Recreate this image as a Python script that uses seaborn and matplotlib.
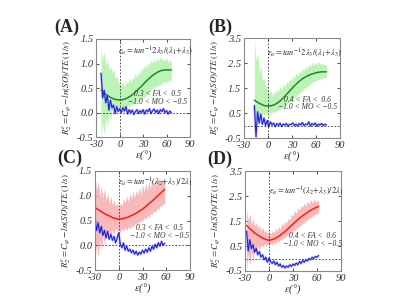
import numpy as np
import matplotlib
matplotlib.use('Agg')
import matplotlib.pyplot as plt
import seaborn as sns

sns.set_style("ticks")
plt.rcParams['font.family'] = 'serif'
plt.rcParams['font.serif'] = ['Liberation Serif', 'DejaVu Serif']
plt.rcParams['mathtext.fontset'] = 'stix'
plt.rcParams['axes.unicode_minus'] = False

# ---- panel A : green fit, 0.3<FA<0.5 ----
eps_a = np.arange(-24, 67, 2)
fit_a = [0.46, 0.43, 0.40, 0.375, 0.35, 0.33, 0.31, 0.295, 0.28, 0.27, 0.265, 0.26, 0.26, 0.26, 0.265,
         0.275, 0.285, 0.30, 0.32, 0.34, 0.36, 0.39, 0.42, 0.45, 0.48, 0.51, 0.54, 0.575, 0.61, 0.64,
         0.67, 0.70, 0.73, 0.755, 0.78, 0.80, 0.82, 0.835, 0.85, 0.86, 0.865, 0.87, 0.87, 0.87, 0.87, 0.865]
hi_a = [1.35, 1.05, 1.25, 0.95, 1.10, 0.85, 0.95, 0.80, 0.90, 0.70, 0.75, 0.62, 0.58, 0.55, 0.62,
        0.52, 0.65, 0.58, 0.70, 0.62, 0.72, 0.68, 0.80, 0.72, 0.85, 0.78, 0.92, 0.86, 0.98, 0.90,
        1.02, 0.95, 1.08, 1.00, 1.10, 1.02, 1.12, 1.05, 1.15, 1.06, 1.10, 1.04, 1.12, 1.02, 1.08, 1.00]
lo_a = [-0.5, -0.2, -0.45, -0.1, -0.3, 0.0, -0.15, 0.05, -0.05, 0.1, 0.0, 0.08, 0.02, 0.10, 0.05,
        0.12, 0.08, 0.15, 0.10, 0.18, 0.14, 0.20, 0.18, 0.24, 0.22, 0.28, 0.26, 0.32, 0.30, 0.36,
        0.38, 0.42, 0.45, 0.50, 0.48, 0.55, 0.52, 0.58, 0.56, 0.62, 0.60, 0.64, 0.62, 0.66, 0.64, 0.70]
blue_a = [0.80, 0.30, 0.45, 0.20, 0.35, 0.05, 0.25, 0.10, 0.15, -0.02, 0.12, 0.02, 0.08, 0.0, 0.10,
          0.03, 0.12, -0.03, 0.06, 0.0, 0.05, -0.04, 0.02, 0.06, -0.02, 0.04, 0.0, 0.06, -0.03, 0.05,
          0.02, 0.08, -0.02, 0.04, 0.07, 0.0, 0.05, -0.02, 0.06, 0.02, 0.08, 0.0, 0.04, -0.03, 0.03, 0.0]

# ---- panel B : green fit, 0.4<FA<0.6 ----
eps_b = np.arange(-17, 74, 2)
fit_b = [1.02, 0.97, 0.93, 0.89, 0.86, 0.83, 0.80, 0.79, 0.78, 0.78, 0.79, 0.80, 0.82, 0.85, 0.89,
         0.93, 0.98, 1.04, 1.10, 1.17, 1.24, 1.31, 1.38, 1.45, 1.52, 1.59, 1.65, 1.71, 1.77, 1.82,
         1.87, 1.91, 1.95, 1.98, 2.01, 2.04, 2.06, 2.08, 2.10, 2.12, 2.13, 2.14, 2.15, 2.15, 2.15, 2.15]
hi_b = [3.5, 2.6, 2.9, 2.1, 2.4, 1.8, 1.9, 1.5, 1.6, 1.25, 1.45, 1.20, 1.35, 1.25, 1.45,
        1.35, 1.55, 1.45, 1.65, 1.55, 1.75, 1.68, 1.85, 1.80, 1.98, 1.90, 2.08, 2.00, 2.18, 2.10,
        2.28, 2.20, 2.38, 2.28, 2.45, 2.35, 2.55, 2.40, 2.52, 2.42, 2.58, 2.45, 2.50, 2.42, 2.46, 2.40]
lo_b = [-0.1, 0.3, 0.1, 0.4, 0.3, 0.5, 0.4, 0.55, 0.45, 0.55, 0.42, 0.58, 0.48, 0.60, 0.55,
        0.66, 0.62, 0.72, 0.70, 0.82, 0.80, 0.92, 0.90, 1.02, 1.02, 1.12, 1.14, 1.24, 1.26, 1.36,
        1.38, 1.48, 1.50, 1.58, 1.60, 1.68, 1.70, 1.76, 1.78, 1.82, 1.84, 1.86, 1.88, 1.90, 1.92, 1.94]
blue_b = [0.80, -0.45, 0.55, 0.10, 0.45, 0.05, 0.30, 0.0, 0.20, -0.05, 0.15, 0.02, 0.10, -0.05, 0.08,
          0.0, 0.10, -0.04, 0.06, 0.02, 0.08, -0.03, 0.05, 0.04, 0.10, 0.0, 0.06, -0.02, 0.08, 0.02,
          0.12, 0.0, 0.06, 0.03, 0.15, -0.02, 0.08, 0.02, 0.10, -0.03, 0.06, 0.02, 0.08, 0.0, 0.05, 0.02]

# ---- panel C : red fit, 0.3<FA<0.5 ----
eps_c = np.arange(-30, 59, 2)
fit_c = [0.76, 0.74, 0.72, 0.70, 0.68, 0.66, 0.64, 0.62, 0.61, 0.59, 0.58, 0.56, 0.55, 0.54, 0.535,
         0.53, 0.53, 0.535, 0.54, 0.55, 0.56, 0.57, 0.585, 0.60, 0.615, 0.63, 0.65, 0.67, 0.69, 0.71,
         0.73, 0.755, 0.78, 0.81, 0.84, 0.865, 0.89, 0.92, 0.95, 0.98, 1.01, 1.04, 1.07, 1.10, 1.13]
hi_c = [1.40, 1.10, 1.30, 1.00, 1.20, 0.95, 1.15, 0.90, 1.05, 0.85, 1.00, 0.80, 0.92, 0.78, 0.88,
        0.75, 0.85, 0.80, 0.95, 0.85, 1.00, 0.88, 1.05, 0.92, 1.10, 0.95, 1.12, 1.00, 1.18, 1.02,
        1.22, 1.08, 1.25, 1.10, 1.28, 1.15, 1.32, 1.18, 1.35, 1.22, 1.38, 1.25, 1.35, 1.28, 1.32]
lo_c = [-0.35, 0.05, -0.25, 0.10, -0.10, 0.20, 0.0, 0.25, 0.10, 0.30, 0.15, 0.32, 0.22, 0.35, 0.28,
        0.32, 0.25, 0.34, 0.28, 0.36, 0.30, 0.38, 0.32, 0.40, 0.36, 0.44, 0.40, 0.48, 0.44, 0.52,
        0.48, 0.56, 0.52, 0.60, 0.56, 0.64, 0.62, 0.70, 0.66, 0.75, 0.72, 0.80, 0.78, 0.85, 0.82]
blue_c = [0.55, 0.30, 0.45, 0.25, 0.38, 0.20, 0.30, 0.15, 0.28, 0.12, 0.22, 0.10, 0.18, 0.05, 0.15,
          0.25, 0.02, -0.05, 0.05, -0.10, -0.02, -0.12, -0.08, -0.15, -0.10, -0.18, -0.12, -0.20, -0.14, -0.18,
          -0.10, -0.16, -0.08, -0.14, -0.05, -0.12, -0.02, -0.08, 0.02, -0.05, 0.05, -0.02, 0.08, 0.0, 0.04]

# ---- panel D : red fit, 0.4<FA<0.6 ----
eps_d = np.arange(-28, 63, 2)
fit_d = [1.32, 1.26, 1.20, 1.14, 1.08, 1.03, 0.98, 0.94, 0.90, 0.86, 0.82, 0.79, 0.76, 0.745, 0.74,
         0.745, 0.76, 0.78, 0.81, 0.85, 0.89, 0.93, 0.98, 1.03, 1.08, 1.14, 1.20, 1.26, 1.32, 1.38,
         1.44, 1.50, 1.56, 1.61, 1.66, 1.71, 1.76, 1.80, 1.85, 1.89, 1.93, 1.96, 2.00, 2.03, 2.06, 2.09]
hi_d = [2.0, 1.5, 1.8, 1.35, 1.6, 1.30, 1.45, 1.20, 1.35, 1.10, 1.28, 1.05, 1.15, 0.98, 1.10,
        0.95, 1.12, 1.02, 1.22, 1.08, 1.30, 1.18, 1.42, 1.30, 1.50, 1.40, 1.62, 1.55, 1.78, 1.70,
        1.92, 1.82, 2.02, 1.95, 2.12, 2.05, 2.22, 2.12, 2.30, 2.18, 2.36, 2.22, 2.38, 2.25, 2.34, 2.28]
lo_d = [-0.5, 0.2, -0.3, 0.3, -0.1, 0.4, 0.2, 0.5, 0.35, 0.55, 0.45, 0.58, 0.50, 0.60, 0.52,
        0.62, 0.55, 0.64, 0.60, 0.70, 0.66, 0.76, 0.74, 0.84, 0.82, 0.92, 0.92, 1.02, 1.02, 1.12,
        1.12, 1.22, 1.22, 1.32, 1.32, 1.42, 1.42, 1.52, 1.52, 1.62, 1.62, 1.70, 1.70, 1.78, 1.78, 1.85]
blue_d = [1.10, 0.30, 0.75, 0.40, 0.55, 0.25, 0.40, 0.15, 0.28, 0.05, 0.15, -0.05, 0.05, -0.15, 0.02,
          -0.12, -0.20, -0.10, -0.25, -0.15, -0.30, -0.22, -0.35, -0.28, -0.38, -0.30, -0.35, -0.25, -0.32, -0.22,
          -0.28, -0.18, -0.25, -0.12, -0.20, -0.08, -0.15, -0.05, -0.10, 0.0, -0.05, 0.05, 0.0, 0.08, 0.05, 0.12]

labels = ['(A)', '(B)', '(C)', '(D)']
formula_ab = r'$\varepsilon_a = tan^{-1}2\lambda_3/(\lambda_1\!+\!\lambda_3)$'
formula_cd = r'$\varepsilon_a = tan^{-1}(\lambda_2\!+\!\lambda_3)/2\lambda_1$'
fa_text = ['0.3 < FA <  0.5', '0.4 < FA <  0.6', '0.3 < FA <  0.5', '0.4 < FA <  0.6']
mo_text = '\u22121.0 < MO < \u22120.5'

panels = [
    dict(eps=eps_a, fit=fit_a, hi=hi_a, lo=lo_a, blue=blue_a, ylim=(-0.5, 1.5), yt=[-0.5, 0.0, 0.5, 1.0, 1.5],
         band='#aef0a6', line='#1c8a2a', formula=formula_ab, fy=1.25, t1=0.37, t2=0.21, tx=48,
         rect=[0.241, 0.543, 0.234, 0.327], lab=(0.167, 0.91)),
    dict(eps=eps_b, fit=fit_b, hi=hi_b, lo=lo_b, blue=blue_b, ylim=(-0.5, 3.5), yt=[-0.5, 0.5, 1.5, 2.5, 3.5],
         band='#aef0a6', line='#1c8a2a', formula=formula_ab, fy=2.9, t1=1.02, t2=0.74, tx=50,
         rect=[0.61, 0.54, 0.24, 0.333], lab=(0.55, 0.91)),
    dict(eps=eps_c, fit=fit_c, hi=hi_c, lo=lo_c, blue=blue_c, ylim=(-0.5, 1.5), yt=[-0.5, 0.0, 0.5, 1.0, 1.5],
         band='#f5a8a8', line='#ff1c1c', formula=formula_cd, fy=1.26, t1=0.35, t2=0.18, tx=52,
         rect=[0.2375, 0.10, 0.2375, 0.33], lab=(0.175, 0.473)),
    dict(eps=eps_d, fit=fit_d, hi=hi_d, lo=lo_d, blue=blue_d, ylim=(-0.5, 3.5), yt=[-0.5, 0.5, 1.5, 2.5, 3.5],
         band='#f5a8a8', line='#ff1c1c', formula=formula_cd, fy=2.7, t1=0.9, t2=0.58, tx=54,
         rect=[0.6125, 0.0967, 0.24, 0.333], lab=(0.55, 0.47)),
]

fig = plt.figure(figsize=(4, 3), dpi=100)
for i, p in enumerate(panels):
    ax = fig.add_axes(p['rect'])
    ax.fill_between(p['eps'], p['lo'], p['hi'], color=p['band'], lw=0, alpha=0.8)
    sns.lineplot(x=p['eps'], y=p['fit'], ax=ax, color=p['line'], lw=1.1)
    sns.lineplot(x=p['eps'], y=p['blue'], ax=ax, color='#8c8cf2', lw=1.8, alpha=0.45)
    sns.lineplot(x=p['eps'], y=p['blue'], ax=ax, color='#1f1fdd', lw=0.8)
    ax.axvline(0, color='#333333', lw=0.6, ls=(0, (2, 2)))
    ax.axhline(0, color='#333333', lw=0.6, ls=(0, (2, 2)))
    ax.set_xlim(-30, 90)
    ax.set_ylim(*p['ylim'])
    ax.set_xticks([-30, 0, 30, 60, 90])
    ax.set_yticks(p['yt'])
    ax.set_yticklabels(['%.1f' % v for v in p['yt']])
    ax.tick_params(direction='in', length=2.5, width=0.6, top=True, right=True, labelsize=7.5,
                   colors='#333333', pad=2)
    for t in ax.get_xticklabels() + ax.get_yticklabels():
        t.set_fontstyle('italic')
    for s in ax.spines.values():
        s.set_color('#888888')
        s.set_linewidth(0.8)
    ax.set_xlabel(r'$\varepsilon$(°)', fontsize=7.5, fontstyle='italic', labelpad=0)
    ax.set_ylabel(r'$R_2^{\varepsilon}=C_{\varphi}-ln(SO)/TE\ (1/s)$', fontsize=6.5, labelpad=2)
    ax.text(46, p['fy'], p['formula'], fontsize=6, ha='center', va='center')
    ax.text(p['tx'], p['t1'], fa_text[i], fontsize=5.5, ha='center', va='center', fontstyle='italic',
            color='#333333')
    ax.text(p['tx'], p['t2'], mo_text, fontsize=5.5, ha='center', va='center', fontstyle='italic',
            color='#333333')
    fig.text(p['lab'][0], p['lab'][1], labels[i], fontsize=13, fontweight='bold', ha='center', va='center')

fig.savefig('out.png', dpi=100)
